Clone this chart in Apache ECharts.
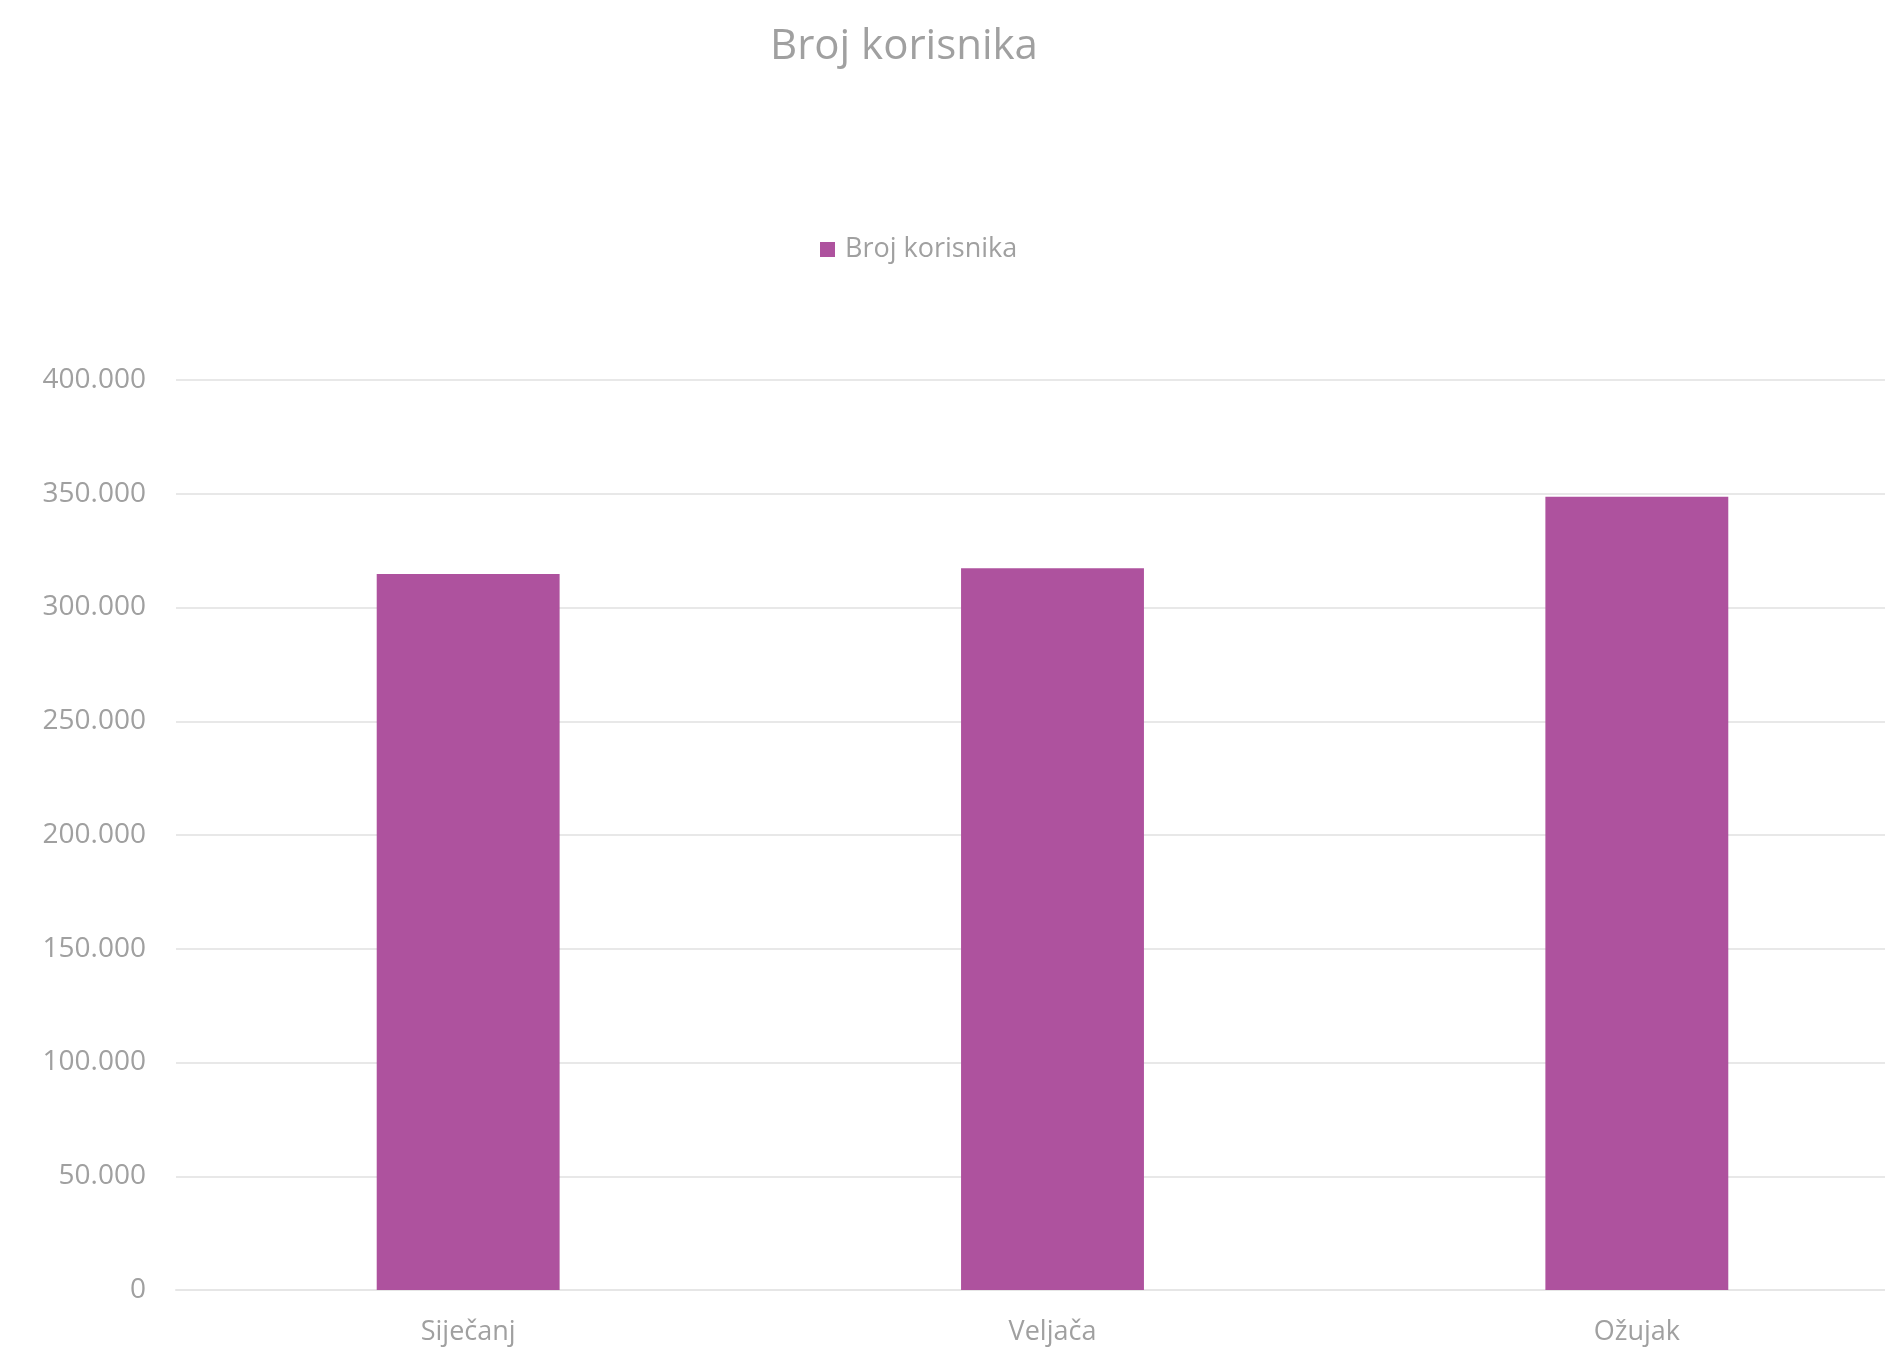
<!DOCTYPE html>
<html>
<head>
<meta charset="utf-8">
<script src="https://cdn.jsdelivr.net/npm/echarts@6/dist/echarts.min.js"></script>
<style>
  html, body { margin: 0; padding: 0; background: #ffffff; overflow: hidden; width: 1885px; height: 1347px; }
  #chart { width: 1929px; height: 1347px; }
</style>
</head>
<body>
<div id="chart"></div>
<script>
const titleText = 'Broj korisnika';
const seriesName = 'Broj korisnika';
const categories = ['Siječanj', 'Veljača', 'Ožujak'];
const values = [314700, 317200, 348700];
const yMin = 0;
const yMax = 400000;
const yInterval = 50000;

function fmtThousands(v) {
  return String(Math.round(v)).replace(/\B(?=(\d{3})+(?!\d))/g, '.');
}

const FONT = '"Open Sans", "Noto Sans", sans-serif';
const chart = echarts.init(document.getElementById('chart'), null, { renderer: 'canvas' });
chart.setOption({
  backgroundColor: '#ffffff',
  animation: false,
  title: {
    text: titleText,
    left: 765,
    top: 21,
    textStyle: { fontFamily: FONT, fontSize: 42, fontWeight: 'normal', color: '#a0a0a0' }
  },
  legend: {
    data: [seriesName],
    left: 820,
    top: 236,
    padding: 0,
    itemWidth: 15,
    itemHeight: 15,
    icon: 'rect',
    textStyle: { fontFamily: FONT, fontSize: 27, color: '#a0a0a0', padding: [0, 0, 0, 5] }
  },
  grid: { left: 176, right: 0, top: 380, bottom: 57, containLabel: false, outerBoundsMode: 'none' },
  xAxis: {
    type: 'category',
    data: categories,
    axisLine: { show: true, lineStyle: { color: '#e6e6e6', width: 2 } },
    axisTick: { show: false },
    axisLabel: { fontFamily: FONT, fontSize: 27, color: '#a0a0a0', margin: 29 }
  },
  yAxis: {
    type: 'value',
    min: yMin,
    max: yMax,
    interval: yInterval,
    axisLine: { show: false },
    axisTick: { show: false },
    splitLine: { lineStyle: { color: '#e8e8e8', width: 2 } },
    axisLabel: {
      fontFamily: FONT, fontSize: 28, color: '#a0a0a0', margin: 30,
      formatter: fmtThousands
    }
  },
  series: [{
    name: seriesName,
    type: 'bar',
    data: values,
    barWidth: '31.3%',
    itemStyle: { color: '#ae529e' }
  }]
});
</script>
</body>
</html>
